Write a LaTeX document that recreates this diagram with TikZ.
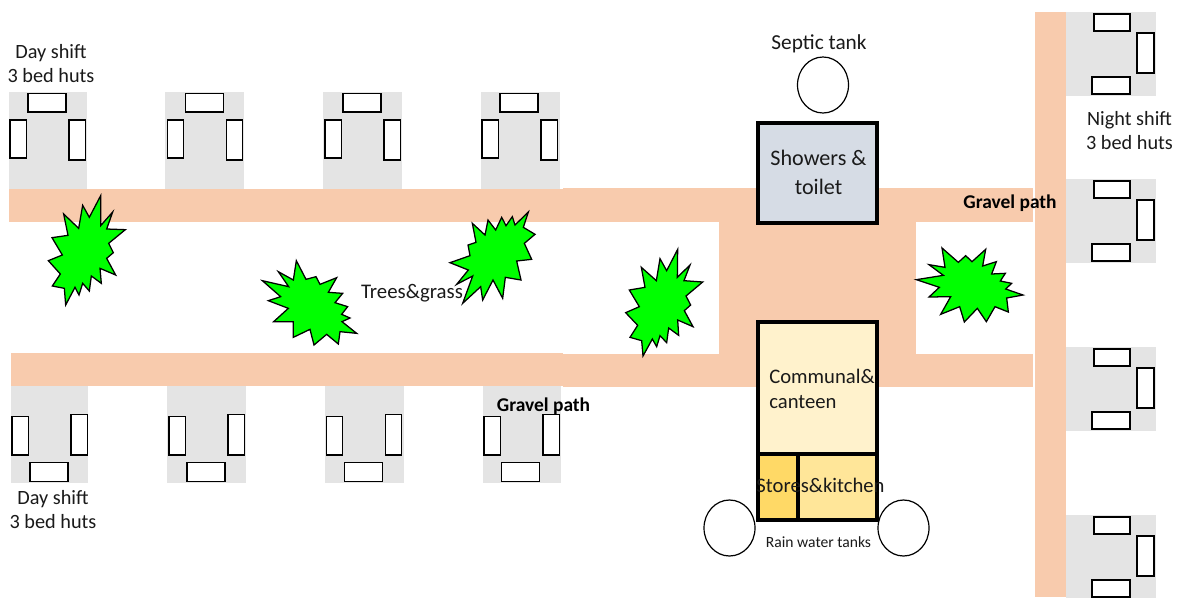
\documentclass[tikz,border=0pt]{standalone}
\usepackage{fontspec}
\setmainfont{Carlito}
\definecolor{gravel}{HTML}{F8CBAD}
\definecolor{hutgray}{HTML}{E4E4E4}
\definecolor{showerblue}{HTML}{D6DCE5}
\definecolor{canteen}{HTML}{FFF2CC}
\definecolor{stores}{HTML}{FFD966}
\definecolor{kitchen}{HTML}{FFE699}
\definecolor{treegreen}{HTML}{00FF00}
\definecolor{ink}{HTML}{1A1A1A}
\tikzset{
  gravelarea/.style={fill=gravel,draw=none},
  hutarea/.style={fill=hutgray,draw=none},
  bed/.style={fill=white,draw=black,line width=0.95pt},
  building/.style={draw=black,line width=2.7pt,miter limit=4},
  tank/.style={fill=white,draw=black,line width=0.9pt},
  tree/.style={fill=treegreen,draw=black,line width=0.95pt,line join=miter},
  label/.style={text=ink,font=\fontsize{15.2}{18}\selectfont,align=center,inner sep=0pt},
  boldlabel/.style={text=black,font=\fontsize{14.6}{17}\selectfont\bfseries,inner sep=0pt},
  smalllabel/.style={text=ink,font=\fontsize{11.7}{14}\selectfont,inner sep=0pt},
  zoomed/.style={x=0.25pt,y=-0.25pt}
}
% #1 gray left, #2 gray width, #3 vertical bed offset, #4 horizontal bed offset
\newcommand{\hutTop}[4]{%
  \begin{scope}[shift={(#1,92)}]
    \fill[hutarea] (0,0) rectangle (#2,97);
    \draw[bed] (#4,1.5) rectangle ++(38,18.5);
    \draw[bed] (#3,28) rectangle ++(16.3,38);
    \draw[bed] ({#3+59},28) rectangle ++(16.3,40);
  \end{scope}}
\newcommand{\hutBot}[4]{%
  \begin{scope}[shift={(#1,386)}]
    \fill[hutarea] (0,0) rectangle (#2,97);
    \draw[bed] (#3,30.5) rectangle ++(16.3,38.5);
    \draw[bed] ({#3+59},28.5) rectangle ++(16.3,40.5);
    \draw[bed] (#4,76.3) rectangle ++(38,19.5);
  \end{scope}}
\newcommand{\hutRight}[1]{%
  \begin{scope}[shift={(1066,#1)}]
    \fill[hutarea] (0,0) rectangle (90,84);
    \draw[bed] (28,2) rectangle (64,19);
    \draw[bed] (71,21) rectangle (88,61);
    \draw[bed] (26,65) rectangle (64,82);
  \end{scope}}
\begin{document}
\begin{tikzpicture}[x=0.75pt,y=-0.75pt]
\useasboundingbox (0,0) rectangle (1177,597);
\fill[white] (0,0) rectangle (1177,597);
% huts
\hutTop{9}{78}{1}{19}\hutTop{165}{79}{2.5}{20.5}\hutTop{323}{79}{2}{20}\hutTop{481}{79}{1}{19}
\hutBot{11}{77}{1}{19}\hutBot{167}{79}{2}{20}\hutBot{325}{79}{1.5}{19.5}\hutBot{483}{78}{1}{18.5}
\hutRight{12}\hutRight{179}\hutRight{347}\hutRight{515}
% gravel paths
\fill[gravelarea] (9,189) rectangle (563,222);
\fill[gravelarea] (563,188) rectangle (1033,222);
\fill[gravelarea] (11,353) rectangle (563,386);
\fill[gravelarea] (563,354) rectangle (1033,387);
\fill[gravelarea] (719,188) rectangle (916,387);
\fill[gravelarea] (1035,12) rectangle (1066,597);
% trees
\begin{scope}[shift={(0,180)},zoomed]
\draw[tree] (302,47)--(302,137)--(338,96)--(320,147)--(376,149)--(326,190)--(340,218)--(320,235)--(347,285)--(300,265)--(304,310)--(274,288)--(268,333)--(248,310)--(237,345)--(225,322)--(197,375)--(193,325)--(157,318)--(181,282)--(145,242)--(187,225)--(156,173)--(204,166)--(191,102)--(236,145)--(248,76)--(268,112)--cycle;
\draw[tree] (889,242)--(918,298)--(948,290)--(960,313)--(1010,293)--(985,337)--(1028,340)--(1005,368)--(1043,380)--(1025,403)--(1050,414)--(1026,425)--(1070,460)--(1020,455)--(1015,492)--(980,463)--(942,495)--(930,448)--(880,472)--(880,425)--(821,425)--(865,385)--(805,362)--(842,350)--(787,302)--(866,320)--(835,275)--(880,300)--cycle;
\end{scope}
\begin{scope}[shift={(400,190)},zoomed]
\draw[tree] (385,66)--(370,112)--(405,133)--(373,160)--(395,208)--(350,213)--(363,270)--(316,262)--(308,325)--(279,270)--(248,330)--(242,290)--(188,340)--(218,258)--(170,283)--(205,240)--(150,218)--(210,197)--(204,165)--(228,157)--(217,100)--(255,135)--(264,90)--(287,120)--(305,82)--(318,107)--(337,80)--(345,105)--cycle;
\draw[tree] (833,178)--(832,262)--(870,225)--(852,272)--(908,276)--(858,318)--(872,345)--(853,362)--(879,410)--(833,390)--(836,436)--(806,414)--(800,458)--(780,437)--(770,470)--(757,447)--(729,498)--(725,452)--(690,442)--(713,406)--(677,368)--(718,350)--(688,300)--(735,292)--(724,232)--(769,272)--(780,206)--(800,242)--cycle;
\end{scope}
\begin{scope}[shift={(900,180)},zoomed]
\draw[tree] (126,204)--(175,247)--(197,227)--(216,245)--(257,208)--(248,258)--(289,245)--(275,282)--(316,280)--(301,303)--(335,310)--(317,327)--(369,345)--(320,354)--(325,396)--(285,380)--(259,425)--(232,385)--(193,426)--(179,380)--(122,403)--(152,350)--(87,351)--(118,322)--(49,299)--(130,286)--(87,254)--(135,262)--cycle;
\end{scope}
% buildings
\draw[building,fill=showerblue] (758,123) rectangle (877,223);
\draw[building,fill=canteen] (758,322) rectangle (877,454);
\draw[building,fill=stores] (758,454) rectangle (798,520);
\draw[building,fill=kitchen] (798,454) rectangle (877,520);
% tanks
\draw[tank] (823,85) ellipse [x radius=25.5,y radius=28];
\draw[tank] (729.5,528) ellipse [x radius=25.5,y radius=28];
\draw[tank] (903.5,528) ellipse [x radius=25.5,y radius=28];
% labels
\node[label] (dayTop) at (51,64) {Day shift\\3 bed huts};
\node[label] (dayBot) at (53,510) {Day shift\\3 bed huts};
\node[label] (night) at (1129.5,130.5) {Night shift\\3 bed huts};
\node[label,font=\fontsize{16}{19}\selectfont] (septic) at (819,44) {Septic tank};
\node[label,font=\fontsize{16.6}{21.75}\selectfont] (shower) at (818.5,172.5) {Showers \&\\toilet};
\node[label,font=\fontsize{15.5}{18.75}\selectfont,anchor=west,align=left] (communal) at (769,389) {Communal\&\\canteen};
\node[label,font=\fontsize{15.5}{18}\selectfont] (stk) at (820.5,485) {Stores\&kitchen};
\node[smalllabel] (rain) at (818.5,542) {Rain water tanks};
\node[label,font=\fontsize{15.6}{18}\selectfont] (trees) at (412,293.5) {Trees\&grass};
\node[boldlabel] (g1) at (1010,203.5) {Gravel path};
\node[boldlabel] (g2) at (543.5,406.5) {Gravel path};
\end{tikzpicture}
\end{document}
